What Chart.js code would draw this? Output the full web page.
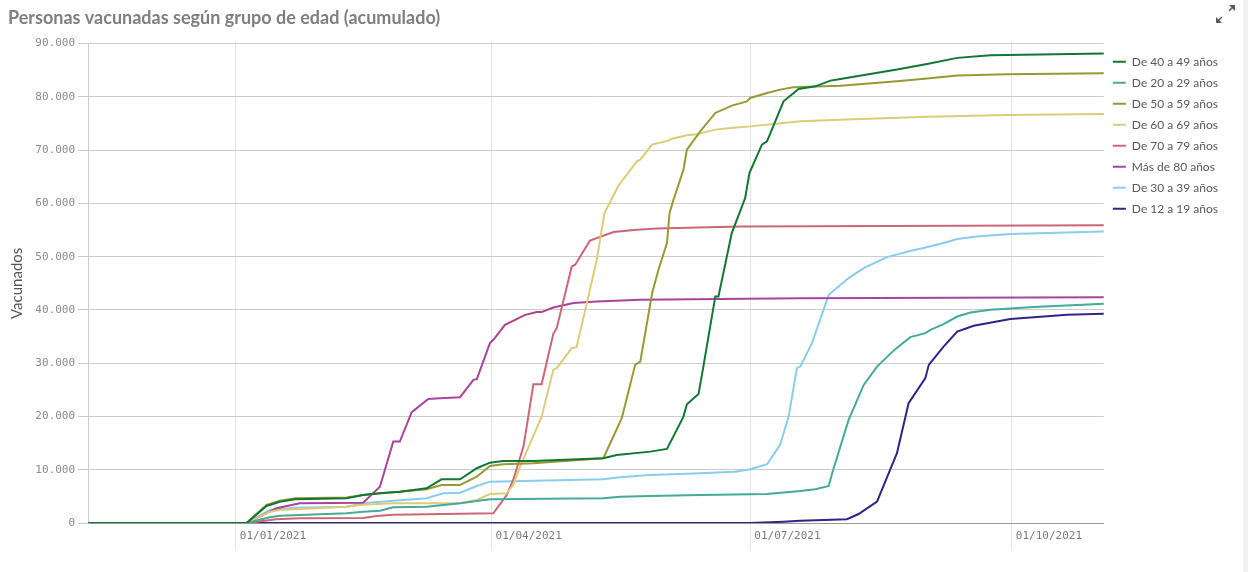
<!DOCTYPE html>
<html>
<head>
<meta charset="utf-8">
<script src="https://cdn.jsdelivr.net/npm/chart.js@4.4.0/dist/chart.umd.min.js"></script>
<style>
  body { margin: 0; background: #fff; }
  #wrap { position: relative; width: 1248px; height: 572px; }
  #strip { position: absolute; right: 0; top: 0; width: 5px; height: 572px; background: #f2f2f2; }
</style>
</head>
<body>
<div id="wrap">
  <canvas id="vacunadosChart" width="1248" height="572"></canvas>
  <div id="strip"></div>
</div>
<script>
// dias desde el 01/01/2021, valores acumulados por grupo
const dias40 = [-52, 3.8, 10.8, 15.5, 20.8, 39, 44.8, 50.7, 57.7, 67.1, 72.4, 78.9, 84.8, 89.4, 94.1, 104.7, 129.3, 134, 145.8, 151.7, 157.5, 158.7, 162.8, 164.3, 168.7, 169.8, 174.5, 179.2, 180.7, 185.1, 186.9, 192.7, 198, 203.9, 209.2, 212.7, 232.6, 243.2, 253.8, 265.5, 305.4];
const vac40 = [0, 0, 3190, 4000, 4450, 4640, 5260, 5580, 5880, 6520, 8210, 8210, 10280, 11330, 11650, 11650, 12160, 12780, 13400, 13900, 19970, 22300, 24240, 28750, 42530, 42530, 54430, 61000, 65710, 71030, 71650, 79160, 81490, 81980, 83050, 83370, 85120, 86190, 87320, 87810, 88130];

const dias20 = [-52, 3.8, 12, 15.5, 39, 44.8, 50.7, 55.4, 67.1, 78.9, 89.4, 129.3, 135.2, 145.8, 163.4, 186.9, 198.6, 203.9, 208.6, 209.8, 215.6, 220.9, 225.6, 232, 237.3, 242.6, 244.4, 249, 253.8, 258.5, 265.5, 280.7, 305.4];
const vac20 = [0, 0, 1070, 1370, 1820, 2120, 2310, 2950, 3060, 3700, 4450, 4640, 4940, 5070, 5260, 5450, 6010, 6330, 6950, 9340, 19350, 25930, 29370, 32640, 34890, 35640, 36260, 37340, 38760, 39520, 40020, 40530, 41150];

const dias50 = [-52, 3.8, 10.8, 15.5, 20.8, 39, 44.8, 50.7, 57.7, 67.1, 72.4, 78.9, 84.8, 89.4, 94.1, 104.7, 129.3, 135.8, 140.5, 142.3, 146.5, 148.7, 151.7, 152.6, 154, 157.5, 158.7, 163.4, 168.7, 174.5, 179.8, 181, 186.9, 191.5, 196.2, 212.7, 232.6, 243.2, 253.8, 271.4, 305.4];
const vac50 = [0, 0, 3400, 4200, 4640, 4800, 5260, 5580, 5880, 6330, 7140, 7140, 8700, 10710, 11030, 11200, 12160, 19670, 29690, 30310, 43220, 47540, 52560, 58190, 60690, 66330, 70090, 73530, 76980, 78350, 79160, 79800, 80740, 81360, 81800, 82110, 82920, 83430, 83990, 84240, 84430];

const dias60 = [-52, 3.8, 12, 15.5, 39, 44.8, 55.4, 78.9, 84.8, 89.4, 95.3, 97.6, 100, 107.6, 111.7, 112.9, 118.2, 119.9, 123.5, 127, 129.7, 134.6, 141.1, 142.3, 146.4, 152.2, 153.4, 158.7, 162.2, 168.7, 175.1, 181, 189.2, 198.6, 212.7, 243.2, 271.4, 305.4];
const vac60 = [0, 0, 2120, 2440, 3060, 3440, 3700, 3700, 4320, 5450, 5580, 7140, 10580, 19970, 28750, 29070, 32830, 33010, 41280, 49420, 58190, 63320, 67890, 68210, 71030, 71780, 72150, 72780, 72960, 73850, 74220, 74460, 74920, 75410, 75720, 76290, 76600, 76800];

const dias70 = [-52, 3.8, 14.3, 22.5, 44.8, 49.5, 55.4, 90.6, 95.3, 97.6, 101.2, 102.9, 104.7, 107.6, 111.7, 112.9, 118.2, 119.4, 124.6, 132.9, 141.1, 148.1, 177.5, 305.4];
const vac70 = [0, 0, 700, 880, 940, 1320, 1560, 1820, 5260, 8080, 14340, 19970, 26060, 26060, 35510, 36580, 48160, 48480, 53040, 54620, 55050, 55300, 55680, 55900];

const dias80 = [-52, 3.8, 14.3, 22.5, 44.8, 50.7, 55.4, 57.7, 61.9, 67.7, 71.8, 78.9, 83.6, 84.8, 89.4, 90.6, 94.7, 101.8, 105.9, 107.6, 111.7, 118.8, 127, 142.3, 198.6, 305.4];
const vac80 = [0, 0, 2760, 3700, 3810, 6820, 15280, 15280, 20800, 23300, 23430, 23620, 26870, 27000, 33770, 34390, 37200, 39080, 39590, 39590, 40460, 41280, 41580, 41900, 42180, 42370];

const dias30 = [-52, 3.8, 12, 20.8, 39, 44.8, 55.4, 67.1, 73, 78.9, 84.8, 89.4, 129.3, 135.2, 145.8, 163.4, 175.7, 181, 186.9, 191.5, 194.5, 197.4, 198.6, 202.7, 208.6, 215.6, 220.9, 229.1, 237.9, 242, 249, 253.8, 260.8, 272.5, 305.4];
const vac30 = [0, 0, 2440, 2870, 3060, 3700, 4190, 4640, 5580, 5690, 6950, 7760, 8210, 8590, 9020, 9340, 9640, 10090, 11030, 14660, 19970, 29070, 29370, 33770, 42840, 45980, 47860, 49920, 51170, 51620, 52560, 53310, 53800, 54250, 54740];

const dias12 = [-52, 181, 192.7, 198.6, 215, 219.1, 225.6, 232.6, 236.7, 242.6, 243.8, 249, 253.8, 259.6, 272.5, 292.5, 305.4];
const vac12 = [0, 0, 240, 430, 700, 1690, 4000, 13100, 22490, 27190, 29690, 33130, 35950, 37020, 38280, 39080, 39270];

const grupos = ['De 40 a 49 años', 'De 20 a 29 años', 'De 50 a 59 años', 'De 60 a 69 años', 'De 70 a 79 años', 'Más de 80 años', 'De 30 a 39 años', 'De 12 a 19 años'];
const colores = ['#117733', '#44aa99', '#999933', '#ddcc77', '#cc6677', '#aa4499', '#88ccee', '#332288'];
const diasSeries = [dias40, dias20, dias50, dias60, dias70, dias80, dias30, dias12];
const vacSeries = [vac40, vac20, vac50, vac60, vac70, vac80, vac30, vac12];

const xTickDias = [0, 90, 181, 273];
const xTickLabels = ['01/01/2021', '01/04/2021', '01/07/2021', '01/10/2021'];

const datasets = grupos.map((label, i) => ({
    label,
    data: diasSeries[i].map((d, j) => ({x: d, y: vacSeries[i][j]})),
    borderColor: colores[i],
    backgroundColor: colores[i],
    borderWidth: 2,
    pointRadius: 0,
    tension: 0,
}));

// small "expand" icon in the top right corner
const expandIcon = {
    id: 'expandIcon',
    afterDraw(chart) {
        const c = chart.ctx;
        c.save();
        c.fillStyle = '#595959';
        c.strokeStyle = '#595959';
        c.lineWidth = 1.5;
        c.beginPath();
        c.moveTo(1235, 5); c.lineTo(1229, 5); c.lineTo(1235, 11); c.closePath();
        c.fill();
        c.beginPath(); c.moveTo(1233, 7); c.lineTo(1229, 11); c.stroke();
        c.beginPath();
        c.moveTo(1216, 23); c.lineTo(1222, 23); c.lineTo(1216, 17); c.closePath();
        c.fill();
        c.beginPath(); c.moveTo(1218, 21); c.lineTo(1222, 17); c.stroke();
        c.restore();
    },
};

const fmtMiles = v => String(v).replace(/\B(?=(\d{3})+(?!\d))/g, '.');

new Chart(document.getElementById('vacunadosChart').getContext('2d'), {
    type: 'line',
    data: {datasets},
    plugins: [expandIcon],
    options: {
        responsive: false,
        animation: false,
        layout: {padding: {left: 8, right: 20, top: 0, bottom: 0}},
        plugins: {
            title: {
                display: true,
                text: 'Personas vacunadas según grupo de edad (acumulado)',
                align: 'start',
                color: '#7f7f7f',
                font: {family: 'Lato', size: 18, weight: 'bold'},
                padding: {top: 7, bottom: 15},
            },
            legend: {
                position: 'right',
                align: 'start',
                fullSize: false,
                title: {display: true, text: ' ', font: {size: 1}, padding: 1},
                labels: {
                    boxWidth: 13,
                    boxHeight: 2,
                    padding: 9,
                    color: '#595959',
                    font: {family: 'Lato', size: 12},
                    generateLabels: chart => chart.data.datasets.map((ds, i) => ({
                        text: ds.label,
                        fillStyle: ds.borderColor,
                        strokeStyle: ds.borderColor,
                        lineWidth: 0,
                        datasetIndex: i,
                        fontColor: '#595959',
                    })),
                },
            },
            tooltip: {enabled: false},
        },
        scales: {
            x: {
                type: 'linear',
                min: -52,
                max: 305.4,
                afterBuildTicks: scale => {
                    scale.ticks = xTickDias.map(v => ({value: v}));
                },
                afterFit: scale => { scale.height = 49; },
                ticks: {
                    callback: (v) => xTickLabels[xTickDias.indexOf(v)],
                    align: 'start',
                    labelOffset: 4,
                    padding: -20,
                    color: '#7a7a7a',
                    font: {family: 'DejaVu Sans Mono', size: 11},
                    maxRotation: 0,
                },
                grid: {color: '#e3e3e3', tickLength: 27, tickColor: '#e3e3e3'},
                border: {color: '#999999', width: 1},
            },
            y: {
                min: 0,
                max: 90000,
                afterFit: scale => { scale.width = 80; },
                ticks: {
                    stepSize: 10000,
                    callback: v => fmtMiles(v),
                    color: '#8a8a8a',
                    font: {family: 'DejaVu Sans Mono', size: 11},
                    padding: 3,
                },
                grid: {color: '#cccccc', tickLength: 10, tickColor: '#cccccc'},
                border: {color: '#cccccc'},
                title: {
                    display: true,
                    text: 'Vacunados',
                    color: '#555555',
                    font: {family: 'Lato', size: 15},
                    padding: {top: 0, bottom: 0},
                },
            },
        },
    },
});
</script>
</body>
</html>
